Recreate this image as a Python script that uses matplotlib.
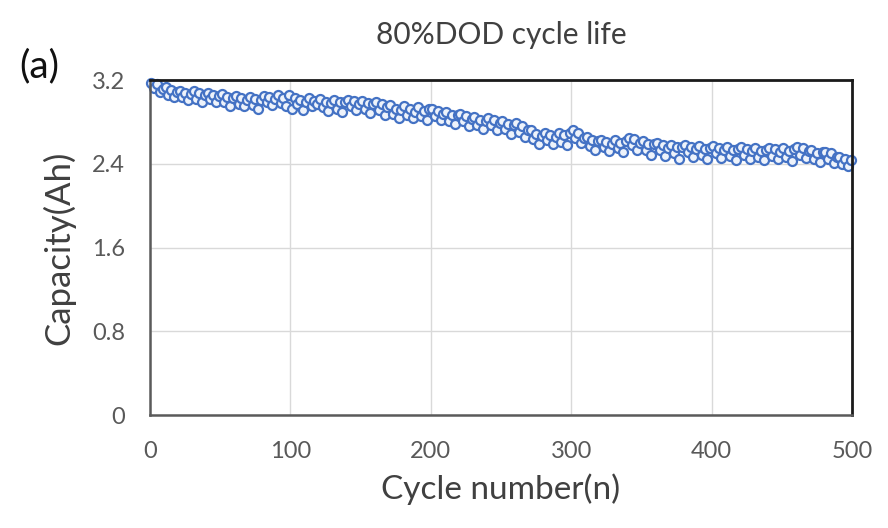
import numpy as np
import matplotlib
matplotlib.use('Agg')
from matplotlib import pyplot as plt

plt.rcParams['font.family'] = ['Lato', 'DejaVu Sans']

# cycle numbers (every 2nd cycle) and measured capacity in Ah
cycles = np.arange(1, 500, 2)
capacity = [
    3.17, 3.13, 3.16, 3.09, 3.12, 3.14, 3.06, 3.11, 3.04, 3.09,
    3.10, 3.04, 3.08, 3.01, 3.07, 3.10, 3.02, 3.08, 2.99, 3.06,
    3.08, 3.02, 3.06, 2.99, 3.05, 3.07, 2.99, 3.04, 2.95, 3.03,
    3.05, 2.97, 3.03, 2.95, 3.01, 3.04, 2.96, 3.02, 2.93, 3.01,
    3.05, 2.99, 3.04, 2.96, 3.02, 3.06, 2.98, 3.03, 2.95, 3.06,
    2.93, 3.03, 2.97, 3.01, 2.92, 2.99, 3.03, 2.95, 3.00, 2.97,
    3.02, 2.94, 2.99, 2.91, 2.98, 3.01, 2.93, 2.99, 2.90, 2.99,
    3.01, 2.95, 3.00, 2.92, 2.97, 3.00, 2.93, 2.98, 2.89, 2.97,
    2.99, 2.92, 2.97, 2.87, 2.94, 2.96, 2.88, 2.93, 2.84, 2.92,
    2.95, 2.87, 2.93, 2.84, 2.90, 2.94, 2.86, 2.91, 2.82, 2.93,
    2.93, 2.86, 2.91, 2.82, 2.88, 2.90, 2.81, 2.87, 2.78, 2.87,
    2.88, 2.81, 2.86, 2.76, 2.83, 2.85, 2.77, 2.82, 2.73, 2.81,
    2.84, 2.77, 2.82, 2.72, 2.79, 2.81, 2.73, 2.78, 2.69, 2.77,
    2.79, 2.71, 2.76, 2.66, 2.72, 2.72, 2.64, 2.69, 2.59, 2.67,
    2.70, 2.63, 2.68, 2.59, 2.66, 2.70, 2.61, 2.68, 2.58, 2.70,
    2.72, 2.65, 2.70, 2.60, 2.65, 2.66, 2.57, 2.63, 2.53, 2.62,
    2.63, 2.56, 2.61, 2.52, 2.59, 2.63, 2.55, 2.60, 2.51, 2.62,
    2.65, 2.58, 2.64, 2.53, 2.60, 2.62, 2.53, 2.59, 2.49, 2.59,
    2.60, 2.53, 2.58, 2.48, 2.55, 2.58, 2.50, 2.56, 2.45, 2.56,
    2.58, 2.51, 2.56, 2.47, 2.54, 2.57, 2.49, 2.54, 2.45, 2.55,
    2.57, 2.50, 2.55, 2.46, 2.53, 2.56, 2.48, 2.53, 2.44, 2.54,
    2.56, 2.49, 2.54, 2.45, 2.52, 2.55, 2.47, 2.52, 2.44, 2.53,
    2.55, 2.48, 2.54, 2.45, 2.51, 2.55, 2.47, 2.52, 2.43, 2.54,
    2.56, 2.49, 2.55, 2.46, 2.52, 2.53, 2.45, 2.50, 2.42, 2.51,
    2.51, 2.45, 2.50, 2.41, 2.47, 2.47, 2.40, 2.45, 2.38, 2.44,
]
xticks = [0, 100, 200, 300, 400, 500]
yticks = [0, 0.8, 1.6, 2.4, 3.2]
ytick_labels = ['0', '0.8', '1.6', '2.4', '3.2']

fig = plt.figure(figsize=(8.88, 5.28), dpi=100)
ax = fig.add_axes([0.169, 0.214, 0.7905, 0.634])

ax.plot(cycles, capacity, 'o', ms=6.5, mfc='#eef3fb', mec='#4472C4', mew=1.6,
        clip_on=False)

ax.set_xlim(0, 500)
ax.set_ylim(0, 3.2)
ax.set_xticks(xticks)
ax.set_yticks(yticks)
ax.set_yticklabels(ytick_labels)
ax.grid(True, color='#d9d9d9', lw=1)
ax.set_axisbelow(True)
ax.tick_params(length=0, labelsize=17, labelcolor='#595959')
ax.tick_params(axis='x', pad=19)
ax.tick_params(axis='y', pad=18)

for s in ['left', 'bottom']:
    ax.spines[s].set_color('#5a5a5a')
    ax.spines[s].set_linewidth(1.8)
for s in ['top', 'right']:
    ax.spines[s].set_color('#1a1a1a')
    ax.spines[s].set_linewidth(2)

ax.set_xlabel('Cycle number(n)', fontsize=24, color='#404040', labelpad=8)
ax.set_ylabel('Capacity(Ah)', fontsize=25, color='#404040', labelpad=12)
ax.set_title('80%DOD cycle life', fontsize=21.5, color='#404040', pad=26)
fig.text(0.022, 1 - 77 / 528, '(a)', fontsize=28, color='#111111', va='baseline')

plt.savefig('out.png', dpi=100)
